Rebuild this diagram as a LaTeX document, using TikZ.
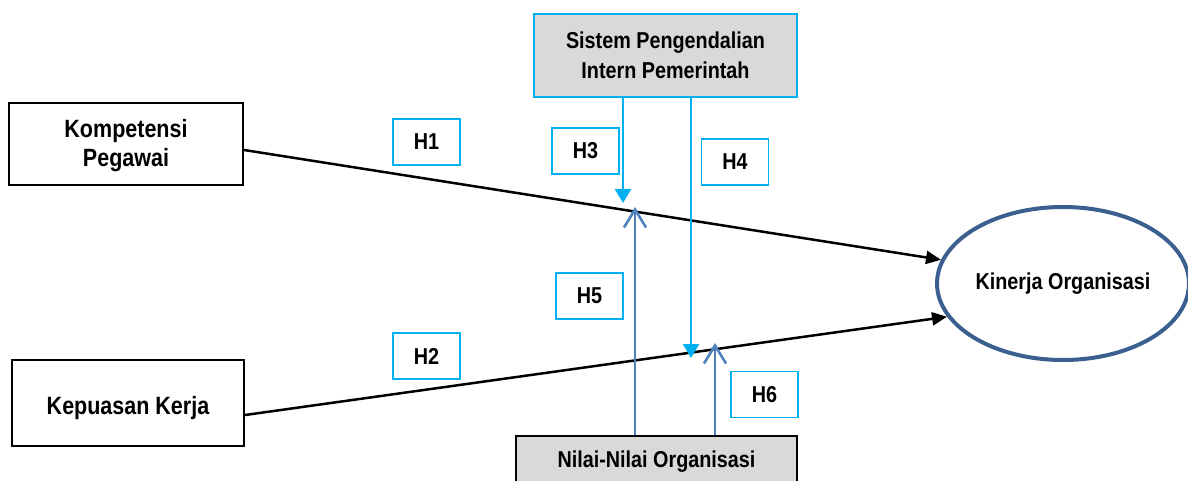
\documentclass[tikz,border=0pt]{standalone}
\usepackage{fontspec}
\setmainfont{Liberation Sans}[FakeStretch=0.86]
\usetikzlibrary{arrows.meta,shapes.geometric}
\definecolor{cyanc}{HTML}{00B0F0}
\definecolor{bluec}{HTML}{4F81BD}
\definecolor{ellc}{HTML}{3B6090}
\definecolor{grayc}{HTML}{D9D9D9}
\begin{document}
\begin{tikzpicture}[x=1pt,y=-1pt,
  every node/.style={font=\bfseries\fontsize{23}{30}\selectfont, align=center},
  bigtext/.style={font=\bfseries\fontsize{25}{29}\selectfont},
  mainbox/.style={draw=black, line width=2.2pt, fill=white, inner sep=0pt},
  graybox/.style={fill=grayc, line width=2.2pt, inner sep=0pt},
  lbl/.style={draw=cyanc, line width=1.8pt, fill=white, minimum width=67pt, minimum height=46pt, inner sep=0pt},
  blackarrow/.style={draw=black, line width=2.5pt, -{Triangle[length=15pt,width=13pt]}},
  cyanarrow/.style={draw=cyanc, line width=2.6pt, -{Triangle[length=14pt,width=16pt]}},
  bluearrow/.style={draw=bluec, line width=2.6pt, -{Straight Barb[length=18pt,width=22pt,line width=2.6pt]}}
]
\useasboundingbox (0,0) rectangle (1188,481);
\node[mainbox, bigtext, minimum width=234pt, minimum height=82pt] (kp) at (126,144) {\rule{0pt}{22pt}Kompetensi\\Pegawai};
\node[mainbox, bigtext, minimum width=232pt, minimum height=86pt] (kk) at (128,403) {\rule{0pt}{29pt}Kepuasan Kerja};
\node[graybox, draw=cyanc, minimum width=263pt, minimum height=83pt] (spip) at (665.5,55.5) {Sistem Pengendalian\\Intern Pemerintah};
\node[graybox, draw=black, minimum width=281pt, minimum height=52pt] (nilai) at (656.5,462) {Nilai-Nilai Organisasi};
\node[ellipse, draw=ellc, line width=4pt, fill=white, minimum width=252pt, minimum height=153pt, inner sep=0pt] (ko) at (1063,283.5) {Kinerja Organisasi};

\draw[blackarrow] ([yshift=-6pt]kp.east) -- (ko.169);
\draw[blackarrow] ([yshift=-12pt]kk.east) -- (ko.196);

\coordinate (h3e) at (623,203);
\coordinate (h4e) at (691,358);
\coordinate (h5e) at (635,207);
\coordinate (h6e) at (715,343);
\draw[cyanarrow] (spip.south -| h3e) -- (h3e);
\draw[cyanarrow] (spip.south -| h4e) -- (h4e);
\draw[bluearrow] (nilai.north -| h5e) -- (h5e);
\draw[bluearrow] (nilai.north -| h6e) -- (h6e);

\node[lbl] (l1) at (426.5,142) {H1};
\node[lbl] (l2) at (426.5,356) {H2};
\node[lbl] (l3) at (585.5,151) {H3};
\node[lbl] (l4) at (735,162) {H4};
\node[lbl] (l5) at (589.5,296) {H5};
\node[lbl] (l6) at (764.5,394.5) {H6};
\end{tikzpicture}
\end{document}
